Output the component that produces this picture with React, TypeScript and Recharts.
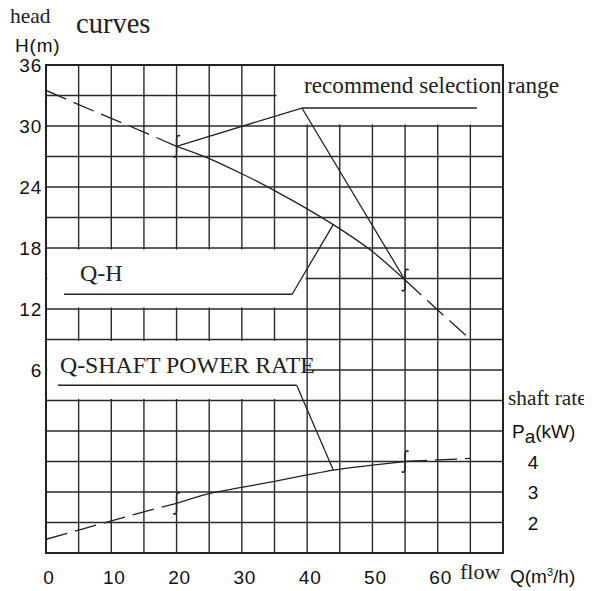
import React from "react";
import {
  ComposedChart,
  Line,
  XAxis,
  YAxis,
  CartesianGrid,
  ReferenceArea,
  ReferenceLine,
  ReferenceDot,
} from "recharts";

// ---- data ----
const flowTicks = [0, 5, 10, 15, 20, 25, 30, 35, 40, 45, 50, 55, 60, 65, 70];
const headTicks = [-12, -9, -6, -3, 0, 3, 6, 9, 12, 15, 18, 21, 24, 27, 30, 33, 36];
const powerTicks = [2, 3, 4];

const qhFlow = [0, 5, 10, 15, 20, 25, 30, 35, 40, 44, 50, 55, 60, 65];
const qhHead = [33.5, 32.1, 30.75, 29.4, 28.0, 26.8, 25.3, 23.65, 21.85, 20.3, 17.65, 14.85, 11.9, 9.0];

const paFlow = [0, 5, 10, 15, 20, 25, 30, 35, 40, 44, 50, 55, 60, 65];
const paPower = [1.45, 1.75, 2.05, 2.35, 2.63, 2.95, 3.15, 3.35, 3.56, 3.72, 3.88, 4.0, 4.05, 4.1];

const ratedFlows = [20, 55];

const qhRows = qhFlow.map((q, i) => ({ q, h: qhHead[i] }));
const paRows = paFlow.map((q, i) => ({ q, p: paPower[i] }));
const seg = (rows: any[], a: number, b: number) => rows.filter((r) => r.q >= a && r.q <= b);
const at = (rows: any[], key: string, q: number) => rows.find((r) => r.q === q)[key];

const INK = "#222";
const SERIF = "'Liberation Serif', 'DejaVu Serif', serif";
const SANS = "'Liberation Sans', Arial, sans-serif";

const XTick = (props: any) => {
  const v = props.payload.value;
  if (v % 10 !== 0 || v > 60) return <g />;
  return (
    <text x={props.x + 3} y={props.y + 31} textAnchor="middle" fontFamily={SANS} fontSize={19} letterSpacing={0.8} fill="#111">
      {v}
    </text>
  );
};
const YTick = (props: any) => {
  const v = props.payload.value;
  if (v <= 0 || v % 6 !== 0) return <g />;
  return (
    <text x={props.x - 4} y={props.y + 7} textAnchor="end" fontFamily={SANS} fontSize={19} letterSpacing={0.8} fill="#111">
      {v}
    </text>
  );
};
const PTick = (props: any) => (
  <text x={props.x + 30} y={props.y + 7} textAnchor="middle" fontFamily={SANS} fontSize={19} fill="#111">
    {props.payload.value}
  </text>
);

const Mark = (props: any) => {
  const { cx, cy } = props;
  if (cx == null || cy == null) return <g />;
  return (
    <path
      d={`M${cx + 3.5},${cy - 10} C${cx + 1.5},${cy - 12} ${cx},${cy - 10} ${cx},${cy - 7} L${cx},${cy + 7} C${cx},${cy + 10} ${cx - 1.5},${cy + 12} ${cx - 3.5},${cy + 10}`}
      fill="none"
      stroke={INK}
      strokeWidth={1.5}
    />
  );
};

export default function App() {
  return (
    <div style={{ position: "relative", width: 584, height: 583 }}>
      <ComposedChart width={584} height={583} margin={{ top: 57, right: 0, bottom: 0, left: 0 }}>
        <XAxis
          dataKey="q"
          type="number"
          domain={[0, 70]}
          ticks={flowTicks}
          height={38}
          tickSize={0}
          tickMargin={0}
          axisLine={false}
          tickLine={false}
          tick={<XTick />}
          interval={0}
          allowDataOverflow
        />
        <YAxis
          type="number"
          domain={[-12, 36]}
          ticks={headTicks}
          width={38}
          tickSize={0}
          tickMargin={0}
          axisLine={false}
          tickLine={false}
          tick={<YTick />}
          interval={0}
          allowDataOverflow
        />
        <YAxis
          yAxisId="p"
          orientation="right"
          type="number"
          domain={[1, 17]}
          ticks={powerTicks}
          width={89}
          tickSize={0}
          tickMargin={0}
          axisLine={false}
          tickLine={false}
          tick={<PTick />}
          interval={0}
          allowDataOverflow
        />
        <CartesianGrid stroke="#2a2a2a" strokeWidth={1.4} />
        <ReferenceArea x1={35.3} x2={70} y1={30.15} y2={36} fill="#fff" fillOpacity={1} stroke="none" />
        <ReferenceArea x1={0.2} x2={39.75} y1={12.15} y2={17.85} fill="#fff" fillOpacity={1} stroke="none" />
        <ReferenceArea x1={0.2} x2={39.75} y1={3.15} y2={8.85} fill="#fff" fillOpacity={1} stroke="none" />
        <ReferenceArea x1={0} x2={70} y1={-12} y2={36} fill="none" stroke="#222" strokeWidth={2} />

        <Line data={seg(qhRows, 0, 20)} dataKey="h" type="linear" stroke={INK} strokeWidth={1.3} strokeDasharray="22 8" dot={false} isAnimationActive={false} />
        <Line data={seg(qhRows, 20, 55)} dataKey="h" type="monotone" stroke={INK} strokeWidth={1.3} dot={false} isAnimationActive={false} />
        <Line data={seg(qhRows, 55, 65)} dataKey="h" type="linear" stroke={INK} strokeWidth={1.3} strokeDasharray="22 8" dot={false} isAnimationActive={false} />

        <Line yAxisId="p" data={seg(paRows, 0, 20)} dataKey="p" type="linear" stroke={INK} strokeWidth={1.3} strokeDasharray="22 8" dot={false} isAnimationActive={false} />
        <Line yAxisId="p" data={seg(paRows, 20, 55)} dataKey="p" type="monotone" stroke={INK} strokeWidth={1.3} dot={false} isAnimationActive={false} />
        <Line yAxisId="p" data={seg(paRows, 55, 65)} dataKey="p" type="linear" stroke={INK} strokeWidth={1.3} strokeDasharray="22 8" dot={false} isAnimationActive={false} />

        {/* leader lines */}
        <ReferenceLine segment={[{ x: 39.2, y: 31.77 }, { x: 66, y: 31.77 }]} stroke={INK} strokeWidth={1.3} />
        <ReferenceLine segment={[{ x: 39.2, y: 31.77 }, { x: 20, y: at(qhRows, "h", 20) }]} stroke={INK} strokeWidth={1.3} />
        <ReferenceLine segment={[{ x: 39.2, y: 31.77 }, { x: 55, y: at(qhRows, "h", 55) }]} stroke={INK} strokeWidth={1.3} />
        <ReferenceLine segment={[{ x: 2.75, y: 13.45 }, { x: 37.7, y: 13.45 }]} stroke={INK} strokeWidth={1.3} />
        <ReferenceLine segment={[{ x: 37.7, y: 13.45 }, { x: 44, y: at(qhRows, "h", 44) }]} stroke={INK} strokeWidth={1.3} />
        <ReferenceLine yAxisId="p" segment={[{ x: 1.85, y: 6.5 }, { x: 38.4, y: 6.5 }]} stroke={INK} strokeWidth={1.3} />
        <ReferenceLine yAxisId="p" segment={[{ x: 38.4, y: 6.5 }, { x: 44, y: at(paRows, "p", 44) }]} stroke={INK} strokeWidth={1.3} />

        {ratedFlows.map((q) => (
          <ReferenceDot key={"h" + q} x={q} y={at(qhRows, "h", q)} shape={<Mark />} />
        ))}
        {ratedFlows.map((q) => (
          <ReferenceDot key={"p" + q} yAxisId="p" x={q} y={at(paRows, "p", q)} shape={<Mark />} />
        ))}
      </ComposedChart>

      <svg width={584} height={583} style={{ position: "absolute", left: 0, top: 0, pointerEvents: "none", overflow: "visible" }}>
        <text x={2} y={14.5} fontFamily={SERIF} fontSize={21.5} fill="#222">head</text>
        <text x={68} y={25} fontFamily={SERIF} fontSize={28.5} fill="#222">curves</text>
        <text x={7} y={44} fontFamily={SANS} fontSize={19} letterSpacing={0.8} fill="#111">H(m)</text>
        <text x={296} y={85} fontFamily={SERIF} fontSize={23.2} fill="#222">recommend selection range</text>
        <text x={72} y={273} fontFamily={SERIF} fontSize={24} fill="#222">Q-H</text>
        <text x={52} y={365} fontFamily={SERIF} fontSize={23.8} fill="#222">Q-SHAFT POWER RATE</text>
        <text x={500} y={397} fontFamily={SERIF} fontSize={21.3} fill="#222">shaft rate</text>
        <text x={504} y={430} fontFamily={SANS} fontSize={19} fill="#111">
          P<tspan dy={5}>a</tspan><tspan dy={-5}>(kW)</tspan>
        </text>
        <text x={452} y={571} fontFamily={SERIF} fontSize={22} fill="#222">flow</text>
        <text x={502} y={575} fontFamily={SANS} fontSize={19} fill="#111">
          Q(m<tspan fontSize={11} dy={-7}>3</tspan><tspan dy={7}>/h)</tspan>
        </text>
        {/* partial neighbouring table at the right edge */}
        <rect x={582.5} y={238.7} width={2} height={80} fill="#d4ebf7" />
        <line x1={582} y1={238.7} x2={584} y2={238.7} stroke="#333" strokeWidth={1.2} />
        <line x1={582} y1={238.7} x2={582} y2={465.3} stroke="#333" strokeWidth={1.2} />
        <line x1={582} y1={318.7} x2={584} y2={318.7} stroke="#333" strokeWidth={1.2} />
        <line x1={582} y1={357.7} x2={584} y2={357.7} stroke="#333" strokeWidth={1.2} />
        <line x1={582} y1={437} x2={584} y2={437} stroke="#333" strokeWidth={1.2} />
        <line x1={582} y1={465.3} x2={584} y2={465.3} stroke="#333" strokeWidth={1.2} />
      </svg>
    </div>
  );
}
